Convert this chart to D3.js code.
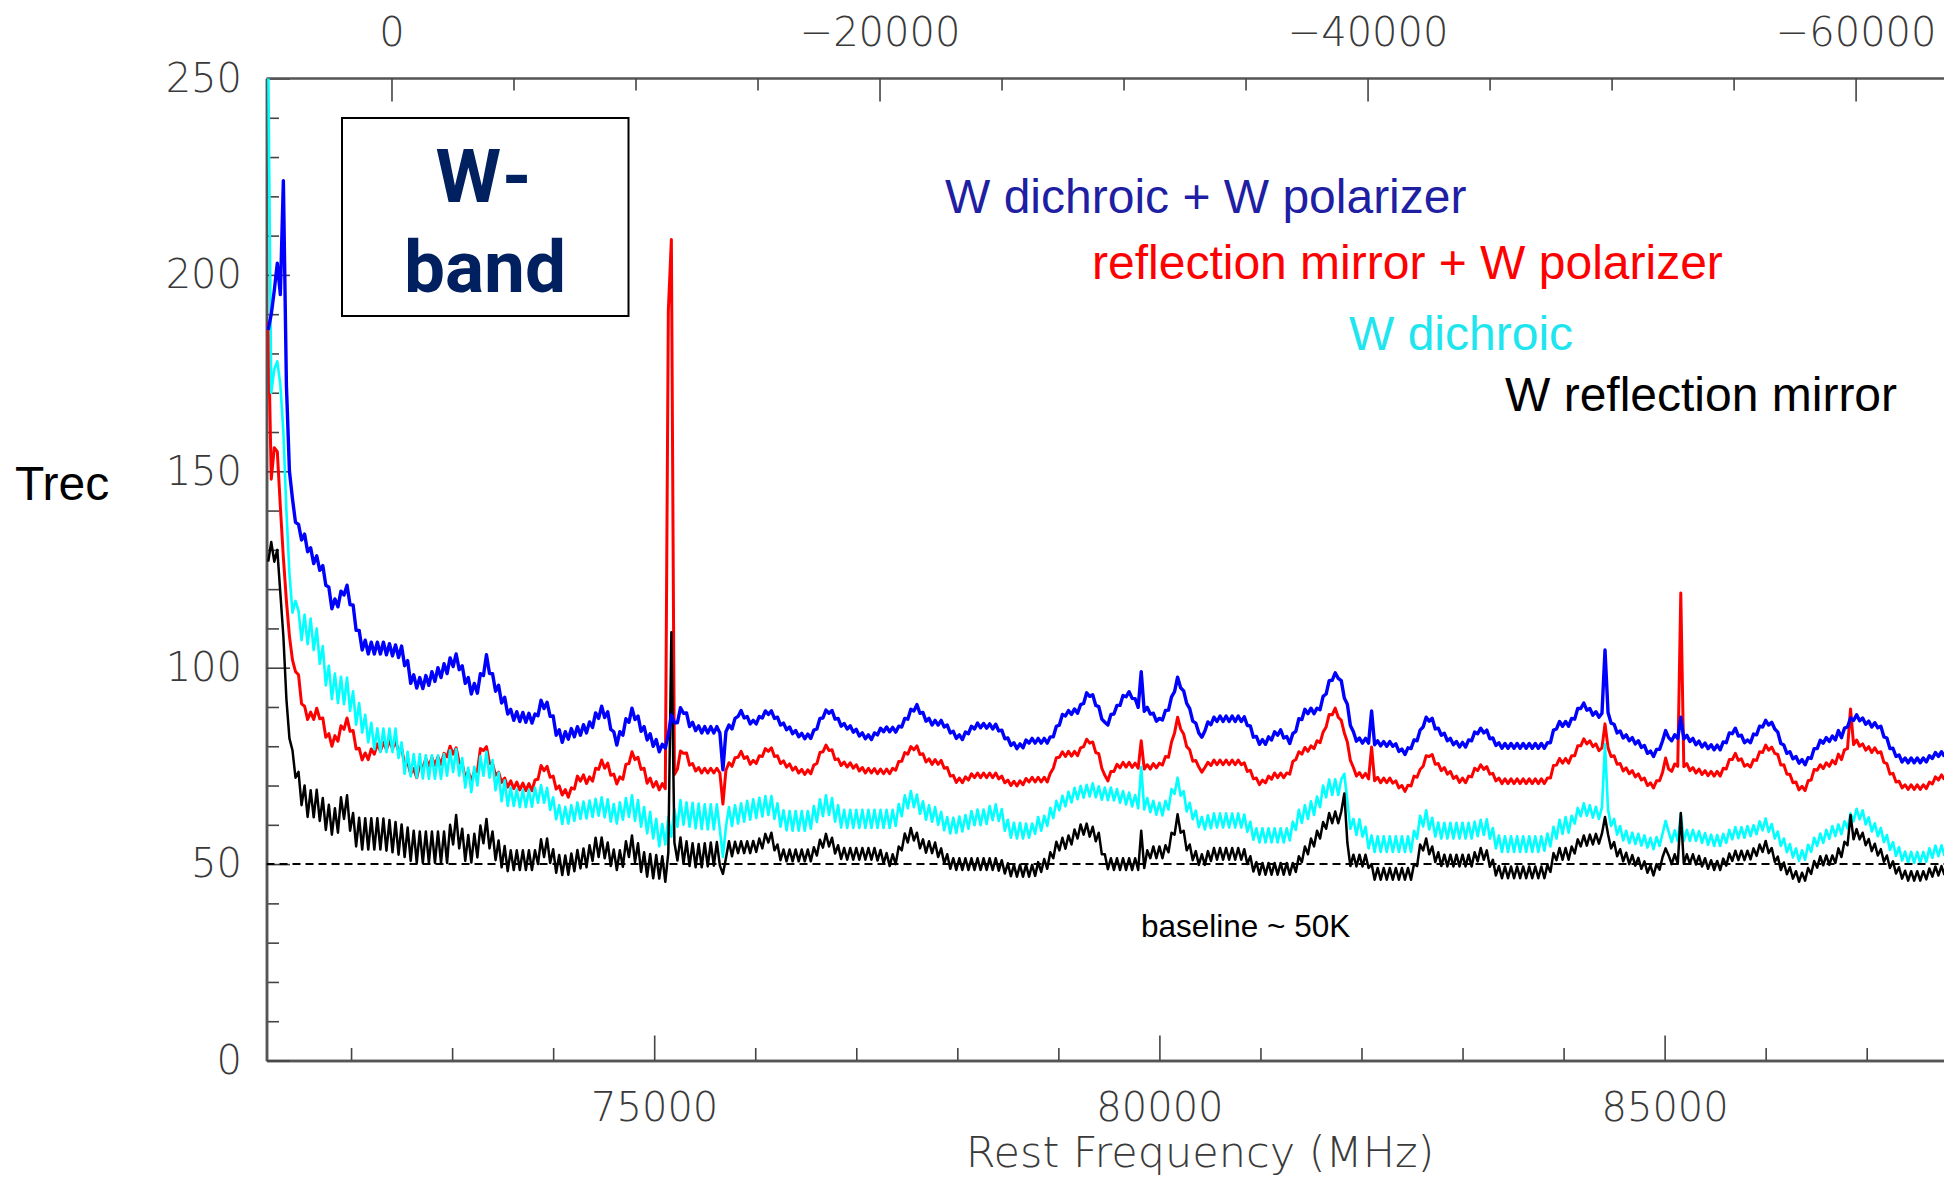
<!DOCTYPE html>
<html>
<head>
<meta charset="utf-8">
<script src="https://cdn.jsdelivr.net/npm/d3@7"></script>
<style>
  body { margin: 0; background: #fff; }
  svg { display: block; }
</style>
</head>
<body>
<svg id="chart"></svg>
<script>
// channel grid of the spectra (MHz): value i sits at freqStart + i * freqStep
var freqStart = 71180;
var freqStep = 30;

var seriesLabels = ["W dichroic + W polarizer", "reflection mirror + W polarizer", "W dichroic", "W reflection mirror"];

// Trec (K)
var blueDichroicPolarizer = [
  186, 190, 196, 203, 195, 224, 172, 150, 143, 137,
  136.5, 132.5, 134, 129.5, 130.5, 126.5, 128.5, 124.8, 126, 121,
  120.5, 115, 117.5, 115.5, 119.5, 118.5, 121, 116, 116, 109.5,
  109.5, 104.5, 107, 103.5, 106.5, 103.5, 106.5, 103.5, 106.5, 103.3,
  106.1, 103, 105.8, 102.6, 105.5, 100.5, 101.8, 96, 98.2, 94.8,
  97.5, 94.7, 98, 95.5, 99, 96.5, 100, 97.5, 101, 98.5,
  102.5, 100.3, 103.5, 99.5, 100.5, 96, 97.5, 93.3, 96, 93.5,
  98.5, 98, 103.3, 98.5, 98.5, 94, 95.5, 91, 92.5, 88.2,
  89.4, 86.6, 88.8, 86.3, 88.6, 86.1, 88.4, 85.9, 88.2, 87.8,
  91.7, 89.6, 91.2, 87.6, 87.7, 82.8, 84.2, 81, 83.7, 81.8,
  84.5, 82.4, 85, 82.8, 85.5, 83.4, 86.2, 84.8, 88.5, 87.1,
  90.2, 87.3, 88.8, 84.3, 83.7, 80.3, 83.7, 82.8, 87, 86.1,
  89.7, 86.8, 87.7, 83.8, 85, 81.6, 83.2, 80, 81.7, 78.6,
  80.5, 79.5, 83, 88, 86, 86, 89.8, 88.4, 88.5, 85,
  86.1, 84, 85.2, 83.4, 85, 83.4, 85, 83.4, 85, 83.4,
  74, 83.7, 85.4, 84.4, 87.1, 87.6, 89.1, 87.2, 87.6, 85.7,
  86.6, 85.7, 87.6, 87.2, 89, 88.1, 89, 87.1, 87.4, 85.4,
  85.9, 84.2, 84.9, 83.2, 84, 82.4, 83.3, 81.9, 83.1, 82,
  84.1, 84.4, 87.1, 87.2, 89.2, 88.4, 89.1, 86.9, 87.1, 85.1,
  85.8, 84.4, 85.2, 83.6, 84.3, 82.6, 83.4, 81.9, 82.9, 81.7,
  83.4, 82.9, 84.6, 83.7, 84.9, 83.7, 84.8, 83.6, 85.1, 84.9,
  87.1, 86.9, 89.4, 89, 90.6, 88.4, 88.6, 86.4, 87.1, 85.4,
  86.6, 85.4, 86.6, 84.9, 85.4, 83.4, 83.8, 82, 82.9, 81.7,
  83.6, 83.2, 85.1, 84.4, 85.9, 84.7, 85.8, 84.6, 85.7, 84.4,
  85.6, 83.9, 84.1, 81.9, 82.1, 80.2, 80.9, 79.4, 80.6, 79.6,
  81.6, 80.8, 82, 80.8, 82, 80.8, 82, 80.8, 82.4, 82.4,
  85.1, 85.4, 88.1, 87.7, 89.1, 88.1, 89.5, 88.4, 90.6, 90.9,
  93.6, 92.7, 93.1, 90.4, 90.1, 86.9, 86.1, 85.4, 88.1, 88.2,
  90.4, 90.4, 92.9, 92.6, 93.9, 92.2, 92.1, 89.9, 99, 88.9,
  89.9, 88.2, 88.4, 86.4, 87.1, 86.7, 89.1, 89.2, 92.6, 93.9,
  97.6, 94.9, 94.1, 90.9, 89.6, 86.4, 85.9, 83.4, 82.3, 83.9,
  86.2, 85.5, 87.4, 86.3, 87.7, 86.3, 87.7, 86.3, 87.7, 86.3,
  87.7, 86.3, 87.5, 85.3, 85.2, 82.3, 82.5, 80.5, 81.7, 80.5,
  82.4, 81.6, 83.7, 82.8, 84.2, 82.1, 82.5, 80.7, 83.2, 83.8,
  87, 86.8, 89.4, 88.3, 89.7, 88.3, 89.7, 89.3, 92.7, 93.3,
  96.7, 96.8, 98.7, 97.3, 96.7, 92.3, 90.7, 85.3, 83.7, 81.3,
  82.1, 80.8, 82, 80.8, 89, 80.4, 81.4, 80.1, 81.2, 80,
  81.2, 80, 80.6, 78.7, 79.3, 77.9, 79.6, 79.4, 81.6, 81.4,
  84.1, 84.9, 87.4, 86.4, 87.1, 84.4, 84.6, 82.8, 83.3, 81.4,
  82, 80.4, 81.2, 79.8, 81, 79.8, 81.6, 81.4, 83.6, 83.2,
  84.6, 83.4, 84.1, 81.9, 82.1, 80.2, 80.9, 79.5, 80.7, 79.5,
  80.7, 79.5, 80.7, 79.5, 80.7, 79.5, 80.7, 79.5, 80.7, 79.5,
  80.7, 79.5, 80.9, 80.9, 84.1, 84.4, 86.3, 85.1, 86.3, 85.1,
  87.1, 86.9, 89.6, 89.6, 91, 89.2, 89.6, 87.9, 88.8, 87.4,
  88.4, 104.5, 88.6, 85.9, 85.6, 83.4, 83.9, 82.1, 82.9, 81.4,
  82.2, 80.6, 81.4, 79.7, 80.2, 78.2, 78.8, 77.4, 79.2, 79.2,
  81.4, 84, 82.2, 81.4, 82.9, 82, 87.4, 81.9, 82.8, 81.2,
  82, 80.4, 81.3, 79.8, 80.8, 79.4, 80.4, 79.1, 80.3, 79.1,
  81.1, 80.9, 83.4, 83.2, 84.6, 82.6, 82.8, 80.9, 81.6, 80.9,
  83.1, 82.9, 85.1, 84.9, 86.6, 85.4, 86.1, 84.4, 83.6, 80.7,
  80.3, 78.2, 78.6, 76.8, 77.4, 75.7, 76.6, 75.3, 77.1, 76.9,
  79.4, 79.4, 81.5, 80.8, 82.2, 81.2, 82.6, 81.6, 84, 82.2,
  84.6, 84.9, 87.2, 86.6, 88, 86.5, 87.2, 85.6, 86.4, 84.9,
  86, 84.7, 85.1, 82.4, 82.1, 79.4, 79.5, 77.4, 77.8, 76,
  77, 75.8, 77, 75.8, 77, 75.8, 77, 76, 77.6, 76.9,
  78.4, 77.4, 78.6, 77.4
];

var redMirrorPolarizer = [
  188, 148, 156, 155, 141, 128, 117, 108, 102, 99,
  98.2, 90.8, 90.2, 86.8, 88.7, 86.8, 89.7, 87, 87.2, 82.3,
  83.2, 80, 82.7, 81.3, 85.2, 84.3, 87.2, 83.8, 84, 79.3,
  79.5, 76.5, 78.3, 76.6, 79.3, 78, 80.6, 78.8, 81, 79.2,
  81.4, 79.4, 81.2, 78.8, 79.5, 75.5, 76, 73, 74.3, 72,
  75.3, 74.6, 76.8, 75, 77.1, 75.2, 77.3, 75.4, 78.2, 77.3,
  80, 78, 79.6, 75.8, 75.5, 72, 73.5, 71.2, 73.5, 73.5,
  79.4, 78.9, 79.9, 75.6, 75.6, 72.6, 73.4, 70.8, 71.9, 69.6,
  71.2, 69.2, 70.9, 68.9, 70.6, 68.7, 70.5, 68.7, 71.4, 71.6,
  75.1, 73.8, 74.9, 72.1, 72.4, 69.1, 69.9, 67.6, 69, 67,
  69.4, 69.1, 72.4, 71.1, 72.7, 70.5, 72.2, 71.1, 74.4, 74.1,
  76.5, 74.4, 75.7, 72.6, 72.9, 70.4, 72.2, 71.6, 75.4, 75.6,
  78.6, 76.6, 77.2, 74.1, 74.4, 70.6, 71.9, 69.6, 71, 68.9,
  70.5, 69.2, 191, 209, 72.8, 74.2, 78.8, 78.2, 78.3, 75.2,
  75.6, 73.7, 74.6, 73.2, 74.4, 73.2, 74.4, 73.2, 74.4, 73.2,
  65.3, 73.9, 75.8, 74.9, 77.1, 77.2, 78.7, 76.9, 77.4, 75.4,
  76.4, 75.6, 77.6, 77.4, 79.4, 78.7, 79.6, 77.4, 77.6, 75.6,
  76.3, 74.7, 75.5, 73.9, 74.7, 73.2, 74.1, 72.8, 74, 73,
  75.2, 75.6, 78.4, 78.6, 80.3, 78.9, 79.1, 76.6, 76.8, 75.1,
  76, 74.7, 75.8, 74.4, 75.3, 73.7, 74.6, 73.2, 74.4, 73.2,
  74.3, 73, 74.2, 73, 74.2, 73, 74.4, 73.9, 76.1, 76.2,
  78.4, 78, 79.9, 79.1, 80.1, 77.9, 78.1, 76, 76.8, 75.4,
  76.6, 75.4, 76.4, 74.4, 74.6, 72.4, 72.6, 70.8, 71.9, 70.7,
  72.2, 71.4, 73, 72, 73.2, 72, 73.2, 72, 73.2, 72,
  73.2, 71.7, 72.4, 70.7, 71.4, 70, 71.1, 69.9, 71.2, 70.2,
  71.8, 70.9, 72.1, 70.9, 72.1, 70.9, 72.1, 70.9, 73.1, 74.4,
  77.1, 77.2, 78.6, 77.4, 78.7, 77.5, 78.7, 77.6, 79.6, 79.9,
  81.8, 80.8, 81.1, 78.4, 78.1, 74.4, 72.6, 71.2, 73.6, 73.6,
  75.4, 74.5, 75.9, 74.7, 75.9, 74.6, 75.7, 74.4, 81.4, 74.2,
  75.3, 74.2, 75.6, 74.5, 75.7, 75.2, 77.4, 77.2, 81.1, 83.4,
  87.4, 84.4, 83.1, 79.9, 79.1, 76.2, 76.4, 74.7, 73.4, 74.6,
  75.9, 75.1, 76.5, 75.3, 76.5, 75.3, 76.5, 75.3, 76.5, 75.3,
  76.5, 75.3, 75.8, 73.6, 73.9, 71.7, 71.9, 70.2, 71.4, 70.7,
  72.4, 71.6, 73.2, 72, 73.2, 72, 73.2, 72.9, 76.1, 76.6,
  78.6, 78, 79.7, 78.7, 80.1, 79.4, 81.4, 80.9, 83.6, 84.9,
  88.1, 88, 89.7, 87.4, 86.6, 83.4, 81.1, 76.4, 74.6, 72.4,
  73.3, 72, 73.1, 71.7, 79.8, 71.2, 72.1, 70.7, 71.9, 70.7,
  71.9, 70.6, 71.2, 69.4, 70, 68.5, 70.1, 69.9, 72.4, 72.1,
  74.1, 74.9, 77.6, 77.4, 77.9, 75.4, 75.6, 73.8, 74.6, 72.9,
  73.6, 71.8, 72.4, 70.8, 71.9, 70.7, 72.4, 72.2, 74.4, 73.8,
  75.3, 74.1, 74.8, 72.9, 73.1, 71.2, 71.9, 70.5, 71.7, 70.5,
  71.7, 70.5, 71.7, 70.5, 71.7, 70.5, 71.7, 70.5, 71.7, 70.5,
  71.7, 70.5, 71.9, 71.9, 75.1, 75.2, 76.9, 75.7, 76.9, 75.7,
  77.6, 77.6, 80.1, 80.1, 81.9, 80.6, 81.4, 79.9, 80.6, 78.9,
  79.6, 85.7, 79.6, 77.4, 77.6, 75.4, 75.6, 73.7, 74.5, 73,
  73.8, 72.2, 73, 71.4, 71.9, 70, 70.7, 69.4, 71.2, 71.2,
  73.4, 77, 74.2, 73.6, 75.5, 74.9, 119, 74.8, 75.6, 73.8,
  74.6, 73.2, 74.2, 72.8, 73.8, 72.5, 73.6, 72.4, 73.6, 72.4,
  74.4, 74.2, 76.6, 76.6, 78.2, 76.4, 76.8, 74.9, 75.4, 74.7,
  76.6, 76.4, 78.6, 78.4, 80.3, 79, 79.8, 78.2, 77.9, 75.2,
  75.3, 72.9, 72.9, 70.7, 70.9, 68.9, 69.8, 68.7, 71.2, 71.4,
  74.1, 73.9, 75.3, 74.3, 75.8, 74.9, 76.4, 75.5, 78, 76.6,
  79.1, 79.4, 89.5, 80.4, 81.6, 80, 80.6, 79, 79.9, 78.4,
  79.6, 78.3, 78.6, 75.9, 75.6, 72.9, 73.1, 70.9, 71.1, 69.4,
  70.2, 69, 70.2, 69, 70.2, 69, 70.2, 69.2, 70.9, 70.4,
  72.2, 71.4, 72.7, 71.5
];

var cyanDichroic = [
  255, 170, 176, 178, 172, 160, 140, 124, 114, 117,
  114.5, 107, 113.5, 106, 112.5, 104.5, 110, 101, 105.5, 95.5,
  100.5, 92, 98.5, 91, 97.7, 90.7, 97.5, 89, 94, 85.5,
  91, 83.5, 88, 81, 86, 79.2, 84.6, 78.5, 84.5, 78.5,
  84.5, 78.5, 84.5, 77, 81, 73, 78.6, 72.3, 78, 72,
  78, 71.8, 77.7, 71.7, 77.7, 71.7, 77.7, 71.7, 78, 72.5,
  79, 73.4, 79.3, 72.5, 77, 69.5, 74.5, 68.3, 74.8, 70,
  77.5, 72.5, 78.6, 72, 76.5, 68.8, 73.3, 66, 71.3, 64.8,
  69.5, 64.8, 69, 64.5, 68.9, 64.5, 68.9, 64.6, 69.5, 65.6,
  70.1, 65.6, 69.4, 63.8, 67, 61.4, 65, 60.2, 64.6, 60.3,
  65, 61, 65.7, 61.5, 65.9, 61.6, 66.2, 62, 66.6, 62.3,
  67, 61.9, 66.5, 60.8, 65.3, 60.3, 65.7, 61.3, 66.8, 62,
  67.5, 61, 66.3, 59.5, 64.5, 57.8, 63.3, 56.5, 61.5, 54.5,
  60.2, 55, 62, 57, 64, 59.5, 66.3, 60, 65.7, 59.5,
  65.6, 59.1, 65.4, 58.9, 65.2, 58.8, 65.2, 58.8, 65.2, 58.8,
  51.8, 59.5, 64.5, 59.7, 65, 60.3, 65.5, 60.8, 66.1, 61.3,
  66.5, 61.7, 66.9, 62.1, 67.3, 62.5, 67.3, 61.5, 65.5, 59.5,
  63.7, 58.6, 63.5, 58.5, 63.5, 58.5, 63.5, 58.5, 63.5, 59,
  64.8, 60.7, 66.5, 62.2, 67.5, 62.5, 66.8, 60.8, 65, 59.3,
  63.8, 59.2, 63.8, 59.2, 63.8, 59.2, 63.8, 59.2, 63.8, 59.2,
  63.8, 59.2, 63.8, 59.2, 63.8, 59.2, 63.8, 59.7, 65.3, 62.2,
  67.5, 64.2, 68.6, 64.5, 67.7, 62.8, 66, 61.3, 65, 60.8,
  64.5, 60, 63.3, 58.6, 62, 57.8, 61.8, 57.9, 62.1, 58.3,
  62.5, 59, 63.5, 59.9, 63.9, 59.9, 63.9, 60.2, 64.8, 61.2,
  65.2, 61, 64, 58.5, 61.3, 56.7, 60.5, 56.5, 60.5, 56.5,
  60.3, 56.7, 60.3, 57.7, 62, 58.5, 62.3, 59.7, 64.3, 61.7,
  66.1, 63.7, 67.4, 64.7, 68.4, 65.7, 69.4, 66.5, 69.9, 66.9,
  70.2, 67.2, 70.6, 67, 69.8, 66.4, 69.5, 66.3, 69.5, 66.2,
  69.1, 65.6, 68.6, 65.2, 68.2, 64.7, 67.6, 64.2, 74.7, 63.9,
  66.8, 63.2, 66.1, 62.6, 65.6, 62.4, 66.1, 63.9, 69.1, 67.9,
  72, 67.4, 68.6, 63.4, 65.6, 61.4, 63.6, 59.4, 62, 58.8,
  62.4, 59.1, 62.9, 59.3, 62.9, 59.3, 62.9, 59.3, 62.9, 59.3,
  62.9, 59.3, 62.6, 58.2, 60.8, 56.2, 59.1, 55.5, 59.1, 55.5,
  59.1, 55.5, 59.1, 55.5, 59.1, 55.5, 59.1, 56, 60.8, 58.7,
  63.8, 60.5, 65, 61.5, 66, 62.5, 67.2, 64.5, 70, 67,
  71.5, 67.6, 71.6, 67.6, 71.6, 73, 66, 59, 61.5, 57.4,
  61.4, 57, 59.5, 54, 57.3, 53.1, 57.1, 53.1, 57.1, 53.1,
  57.1, 53.1, 57.1, 53.1, 57.1, 53.1, 57.1, 53.1, 58.5, 56.5,
  62.3, 59.6, 63.7, 58.8, 61.8, 57, 60.6, 56.5, 60.5, 56.5,
  60.5, 56.5, 60.5, 56.5, 60.5, 56.5, 60.5, 56.5, 60.8, 57.1,
  61.3, 57.4, 61.4, 56.5, 59.2, 54, 57.3, 53.1, 57.1, 53.1,
  57.1, 53.1, 57.1, 53.1, 57.1, 53.1, 57.1, 53.1, 57.1, 53.1,
  57.1, 53.4, 57.8, 54.5, 59.5, 56.5, 61.3, 57.7, 62, 58,
  62.3, 60.3, 64.3, 62.2, 65.5, 62.3, 65, 61.8, 64.6, 61.5,
  64.5, 80.5, 63.9, 59.7, 61.5, 57.5, 59.7, 56, 58.5, 55.3,
  58, 55.1, 57.7, 54.7, 57.3, 54.2, 56.7, 53.8, 56.9, 54.6,
  57.8, 61, 58.2, 55.6, 58.6, 55.9, 62.8, 55.9, 58.7, 55.9,
  58.7, 55.9, 58.4, 55.4, 57.9, 54.9, 57.5, 54.6, 57.4, 54.6,
  57.7, 55.4, 58.7, 56.3, 59.4, 56.6, 59.4, 56.7, 59.7, 57.1,
  59.9, 57.6, 60.9, 58.6, 61.6, 58.2, 60.2, 56.5, 58.3, 54.6,
  56.5, 53, 55.1, 51.7, 54, 50.8, 53.5, 51.1, 54.9, 53.1,
  56.7, 54.6, 57.8, 55.4, 58.7, 56.4, 59.7, 57.1, 60.1, 57.6,
  60.9, 59.1, 62.9, 60.9, 64.1, 61.4, 63.7, 60.1, 61.9, 58.3,
  60.4, 57.1, 59.2, 55.6, 57.4, 53.6, 55.6, 52.1, 54.3, 50.9,
  53.2, 50.3, 53.1, 50.3, 53.1, 50.3, 53.1, 50.6, 54, 51.6,
  54.7, 52, 54.8, 52.1
];

var blackMirror = [
  127, 132, 127, 130, 119, 108, 92, 82, 79, 72,
  73.5, 65, 70, 62, 68.8, 61.9, 68.9, 61, 66.8, 58.7,
  65.1, 57.5, 64.2, 58, 67, 61.5, 67.5, 58.5, 63, 54.5,
  61.8, 53.7, 61.7, 53.7, 61.7, 53.7, 61.7, 53.7, 61.6, 53.4,
  61.2, 53, 60.7, 52.4, 60.1, 51.8, 59.3, 50.8, 58.5, 50.3,
  58.3, 50.3, 58.3, 50.3, 58.3, 50.3, 58.3, 50.3, 58.3, 50.3,
  60, 55, 62.5, 54, 59, 50.8, 57.4, 50.4, 57.7, 51.7,
  59.8, 55.3, 61.5, 54, 58.3, 51, 56, 49.2, 54.6, 48.2,
  53.5, 48.5, 53.5, 48.5, 53.5, 48.5, 53.5, 48.5, 53.5, 50,
  56.3, 51.8, 56.5, 50.3, 53.8, 47.8, 52.3, 47.2, 52.2, 47.3,
  52.7, 48.2, 53.6, 48.9, 54, 49.2, 54.8, 50.8, 56.7, 51.8,
  56.8, 51.5, 55.5, 49.5, 53.7, 48.5, 53.5, 49.3, 55.8, 51.8,
  57.3, 50.5, 55.3, 48, 53, 46.8, 52.6, 46.4, 52.3, 46.3,
  52, 45.5, 53, 109, 55.5, 50.9, 56.8, 50.2, 55.8, 49.5,
  55.3, 49.2, 55.1, 49.2, 55.3, 49.4, 55.5, 49.6, 55.6, 49.6,
  47.5, 51.5, 55.8, 52, 55.7, 52.8, 55.8, 52.8, 55.8, 52.8,
  55.9, 53.1, 56.5, 54, 57.7, 55.5, 58, 53.5, 55, 51,
  53.7, 50.7, 53.7, 50.7, 53.7, 50.7, 53.7, 50.7, 53.7, 50.7,
  54.3, 52.2, 56.2, 54.2, 57.7, 54.5, 56.7, 52.7, 54.8, 51.3,
  54.1, 51.1, 54.1, 51.1, 54.1, 51.1, 54.1, 51.1, 54.1, 51.1,
  54.1, 50.9, 53.6, 50.2, 52.8, 49.5, 52.5, 50, 54.5, 53.5,
  57.8, 55.5, 59.2, 56, 58, 54, 56.3, 52.9, 55.8, 52.8,
  55.5, 51.8, 54, 50.2, 52.5, 48.8, 51.5, 48.5, 51.5, 48.5,
  51.5, 48.5, 51.5, 48.5, 51.5, 48.5, 51.5, 48.5, 51.5, 48.5,
  51.5, 48.3, 51, 47.6, 50.2, 46.9, 49.8, 46.8, 49.8, 46.8,
  49.8, 46.8, 49.8, 47, 50.5, 48, 51.3, 48.8, 53, 51.5,
  55.7, 53.5, 56.7, 53.9, 57.3, 55, 58.8, 56.5, 60.1, 57.5,
  60.3, 57, 59.5, 55.8, 58, 52.5, 52.5, 48.7, 51.5, 48.5,
  51.5, 48.5, 51.5, 48.5, 51.5, 48.5, 51.5, 48.5, 58.5, 49,
  53.5, 51.5, 54.5, 51.5, 54.5, 51.5, 54.8, 53, 58, 57.5,
  62.7, 58, 58.5, 53.5, 55, 51, 53.3, 49.8, 52.5, 49.8,
  53.3, 50.8, 54.1, 51.1, 54.1, 51.1, 54.1, 51.1, 54.1, 51.1,
  54.1, 51.1, 53.8, 50, 52, 48.1, 50.5, 47.3, 50.3, 47.3,
  50.3, 47.3, 50.3, 47.3, 50.3, 47.3, 50.3, 47.3, 50.3, 48,
  52, 50.5, 54.5, 52.5, 56.5, 54.5, 58.5, 56.5, 60.7, 59,
  63, 60.4, 63.4, 60.4, 63.4, 68, 55.5, 49.5, 52.4, 49.4,
  52.4, 49.4, 52.4, 49, 50, 46, 49, 46, 49, 46,
  49, 46, 49, 46, 49, 46, 49, 46, 50, 49.5,
  55, 53.5, 56.5, 52.5, 54.5, 50.5, 53, 49.5, 52.4, 49.4,
  52.4, 49.4, 52.4, 49.4, 52.4, 49.4, 52.4, 49.4, 53, 50.7,
  54.1, 51.1, 53.5, 49.3, 51.1, 47.1, 49.5, 46.4, 49.4, 46.4,
  49.4, 46.4, 49.4, 46.4, 49.4, 46.4, 49.4, 46.4, 49.4, 46.4,
  49.4, 46.4, 49.8, 48, 52.8, 51, 54.1, 51.1, 54.1, 51.1,
  54.5, 52.7, 56.3, 54.5, 57.3, 54.7, 57.5, 55, 57.7, 55.2,
  57.8, 62, 57.6, 54, 55.6, 52, 53.8, 50.7, 52.9, 50,
  52.3, 49.6, 51.6, 48.8, 50.7, 47.8, 49.7, 47.1, 50, 48.6,
  51.8, 54, 52.2, 50, 52.5, 50.1, 63, 50.1, 52.5, 50.1,
  52.5, 49.9, 52.1, 49.4, 51.5, 48.8, 51, 48.5, 50.8, 48.5,
  51.4, 49.6, 52.7, 50.8, 53.4, 51, 53.4, 51, 53.4, 51.2,
  54, 52.1, 55, 53.1, 55.9, 52.8, 54.1, 50.6, 51.9, 48.5,
  50.4, 47.4, 49.2, 46.3, 48.2, 45.5, 47.8, 45.8, 49, 47.5,
  50.8, 49.1, 52, 49.7, 52.2, 49.8, 52.2, 50.3, 54, 51.8,
  55.7, 54.8, 62.5, 56.3, 58.9, 56.3, 58, 54.8, 56.4, 53.3,
  55.2, 52.2, 53.8, 50.6, 52.2, 49, 50.7, 47.6, 49.2, 46.3,
  48.3, 45.8, 48.2, 45.8, 48.2, 45.8, 48.2, 46.1, 48.9, 46.8,
  49.4, 47.1, 49.5, 47.2
];

// axes
var freqMajorTicks = [75000, 80000, 85000];
var freqMinorTicks = [72000, 73000, 74000, 76000, 77000, 78000, 79000, 81000, 82000, 83000, 84000, 86000, 87000];
var trecMajorTicks = [0, 50, 100, 150, 200, 250];
var trecMinorTicks = [10, 20, 30, 40, 60, 70, 80, 90, 110, 120, 130, 140, 160, 170, 180, 190, 210, 220, 230, 240];
var velMajorTicks = [0, -20000, -40000, -60000];
var velMinorTicks = [-5000, -10000, -15000, -25000, -30000, -35000, -45000, -50000, -55000];
var restFreq = 72400;      // MHz, zero of the velocity axis
var lightSpeed = 299792.458;
var baselineLevel = 50;

var width = 1944, height = 1179;
var plotLeft = 266.5, plotTop = 78.5, plotBottom = 1060.5, plotRight = 1944;

var svg = d3.select("#chart")
    .attr("width", width)
    .attr("height", height)
    .style("background", "#fff");

var x = d3.scaleLinear().domain([71163, 87765]).range([plotLeft, plotRight]);
var y = d3.scaleLinear().domain([0, 250]).range([plotBottom, plotTop]);
var vel = d3.scaleLinear()
    .domain([0, -60000])
    .range([x(restFreq), x(restFreq * (1 + 60000 / lightSpeed))]);

var fmt = d3.format("d");

function styleAxis(g) {
    g.attr("font-family", "'DejaVu Sans', sans-serif")
        .attr("font-size", 40)
        .attr("font-weight", 200);
    g.select(".domain").attr("stroke", "#555").attr("stroke-width", 2.5);
    g.selectAll(".tick line").attr("stroke", "#444").attr("stroke-width", 1.6);
    g.selectAll(".tick text").attr("fill", "#3a3a3a");
}

// bottom axis (rest frequency)
svg.append("g")
    .attr("transform", "translate(0," + plotBottom + ")")
    .call(d3.axisBottom(x).tickValues(freqMinorTicks).tickFormat("").tickSize(-12.5).tickSizeOuter(0))
    .call(styleAxis);
svg.append("g")
    .attr("transform", "translate(0," + plotBottom + ")")
    .call(d3.axisBottom(x).tickValues(freqMajorTicks).tickFormat(fmt).tickSize(-25).tickSizeOuter(0).tickPadding(32))
    .call(styleAxis);

// left axis (Trec)
svg.append("g")
    .attr("transform", "translate(" + plotLeft + ",0)")
    .call(d3.axisLeft(y).tickValues(trecMinorTicks).tickFormat("").tickSize(-12.5).tickSizeOuter(0))
    .call(styleAxis);
svg.append("g")
    .attr("transform", "translate(" + plotLeft + ",0)")
    .call(d3.axisLeft(y).tickValues(trecMajorTicks).tickFormat(fmt).tickSize(-23.5).tickSizeOuter(0).tickPadding(24.5))
    .call(styleAxis);

// top axis (velocity)
svg.append("line")
    .attr("x1", plotLeft).attr("x2", plotRight)
    .attr("y1", plotTop).attr("y2", plotTop)
    .attr("stroke", "#555").attr("stroke-width", 2.5);
var topMinor = svg.append("g")
    .attr("transform", "translate(0," + plotTop + ")")
    .call(d3.axisTop(vel).tickValues(velMinorTicks).tickFormat("").tickSize(-12).tickSizeOuter(0))
    .call(styleAxis);
topMinor.select(".domain").remove();
var topMajor = svg.append("g")
    .attr("transform", "translate(0," + plotTop + ")")
    .call(d3.axisTop(vel).tickValues(velMajorTicks).tickFormat(fmt).tickSize(-23).tickSizeOuter(0).tickPadding(32.5))
    .call(styleAxis);
topMajor.select(".domain").remove();

// spectra
svg.append("clipPath").attr("id", "plot-clip")
    .append("rect")
    .attr("x", plotLeft).attr("y", plotTop)
    .attr("width", plotRight - plotLeft).attr("height", plotBottom - plotTop);

var line = d3.line()
    .x(function (d, i) { return x(freqStart + i * freqStep); })
    .y(function (d) { return y(d); });

var plot = svg.append("g").attr("clip-path", "url(#plot-clip)");

var series = [
    { values: redMirrorPolarizer, color: "#ff0000", width: 3 },
    { values: cyanDichroic, color: "#00ffff", width: 2.6 },
    { values: blackMirror, color: "#000000", width: 2.5 },
    { values: blueDichroicPolarizer, color: "#0000ff", width: 3.4 }
];

plot.selectAll("path.spec")
    .data(series)
    .enter()
    .append("path")
    .attr("class", "spec")
    .attr("d", function (d) { return line(d.values); })
    .attr("fill", "none")
    .attr("stroke", function (d) { return d.color; })
    .attr("stroke-width", function (d) { return d.width; })
    .attr("stroke-linejoin", "round");

// 50 K baseline
plot.append("line")
    .attr("x1", plotLeft).attr("x2", plotRight)
    .attr("y1", y(baselineLevel)).attr("y2", y(baselineLevel))
    .attr("stroke", "#000")
    .attr("stroke-width", 2)
    .attr("stroke-dasharray", "8,5");

// texts
svg.append("text")
    .attr("x", 1200).attr("y", 1167)
    .attr("text-anchor", "middle")
    .attr("font-family", "'DejaVu Sans', sans-serif")
    .attr("font-weight", 200)
    .attr("font-size", 43)
    .attr("fill", "#3a3a3a")
    .text("Rest Frequency (MHz)");

svg.append("text")
    .attr("x", 15).attr("y", 500)
    .attr("font-family", "'Liberation Sans', Arial, sans-serif")
    .attr("font-size", 48)
    .attr("fill", "#000")
    .text("Trec");

svg.append("text")
    .attr("x", 1141).attr("y", 937)
    .attr("font-family", "'Liberation Sans', Arial, sans-serif")
    .attr("font-size", 31.5)
    .attr("fill", "#000")
    .text("baseline ~ 50K");

var legend = [
    { text: seriesLabels[0], x: 945, y: 213, color: "#1f1fa3" },
    { text: seriesLabels[1], x: 1092, y: 279, color: "#ff0000" },
    { text: seriesLabels[2], x: 1349, y: 350, color: "#1fe5ef" },
    { text: seriesLabels[3], x: 1505, y: 411, color: "#000000" }
];
svg.selectAll("text.legend")
    .data(legend)
    .enter()
    .append("text")
    .attr("class", "legend")
    .attr("x", function (d) { return d.x; })
    .attr("y", function (d) { return d.y; })
    .attr("font-family", "'Liberation Sans', Arial, sans-serif")
    .attr("font-size", 48)
    .attr("fill", function (d) { return d.color; })
    .text(function (d) { return d.text; });

// W-band box
svg.append("rect")
    .attr("x", 342).attr("y", 118)
    .attr("width", 286.5).attr("height", 198)
    .attr("fill", "#fff")
    .attr("stroke", "#000")
    .attr("stroke-width", 2);
svg.append("text")
    .attr("x", 485).attr("y", 202)
    .attr("text-anchor", "middle")
    .attr("font-family", "Roboto, 'Noto Sans', sans-serif")
    .attr("font-weight", 700)
    .attr("font-size", 75)
    .attr("letter-spacing", 3)
    .attr("fill", "#002060")
    .text("W-");
svg.append("text")
    .attr("x", 485).attr("y", 292)
    .attr("text-anchor", "middle")
    .attr("font-family", "Roboto, 'Noto Sans', sans-serif")
    .attr("font-weight", 700)
    .attr("font-size", 73)
    .attr("fill", "#002060")
    .text("band");
</script>
</body>
</html>
